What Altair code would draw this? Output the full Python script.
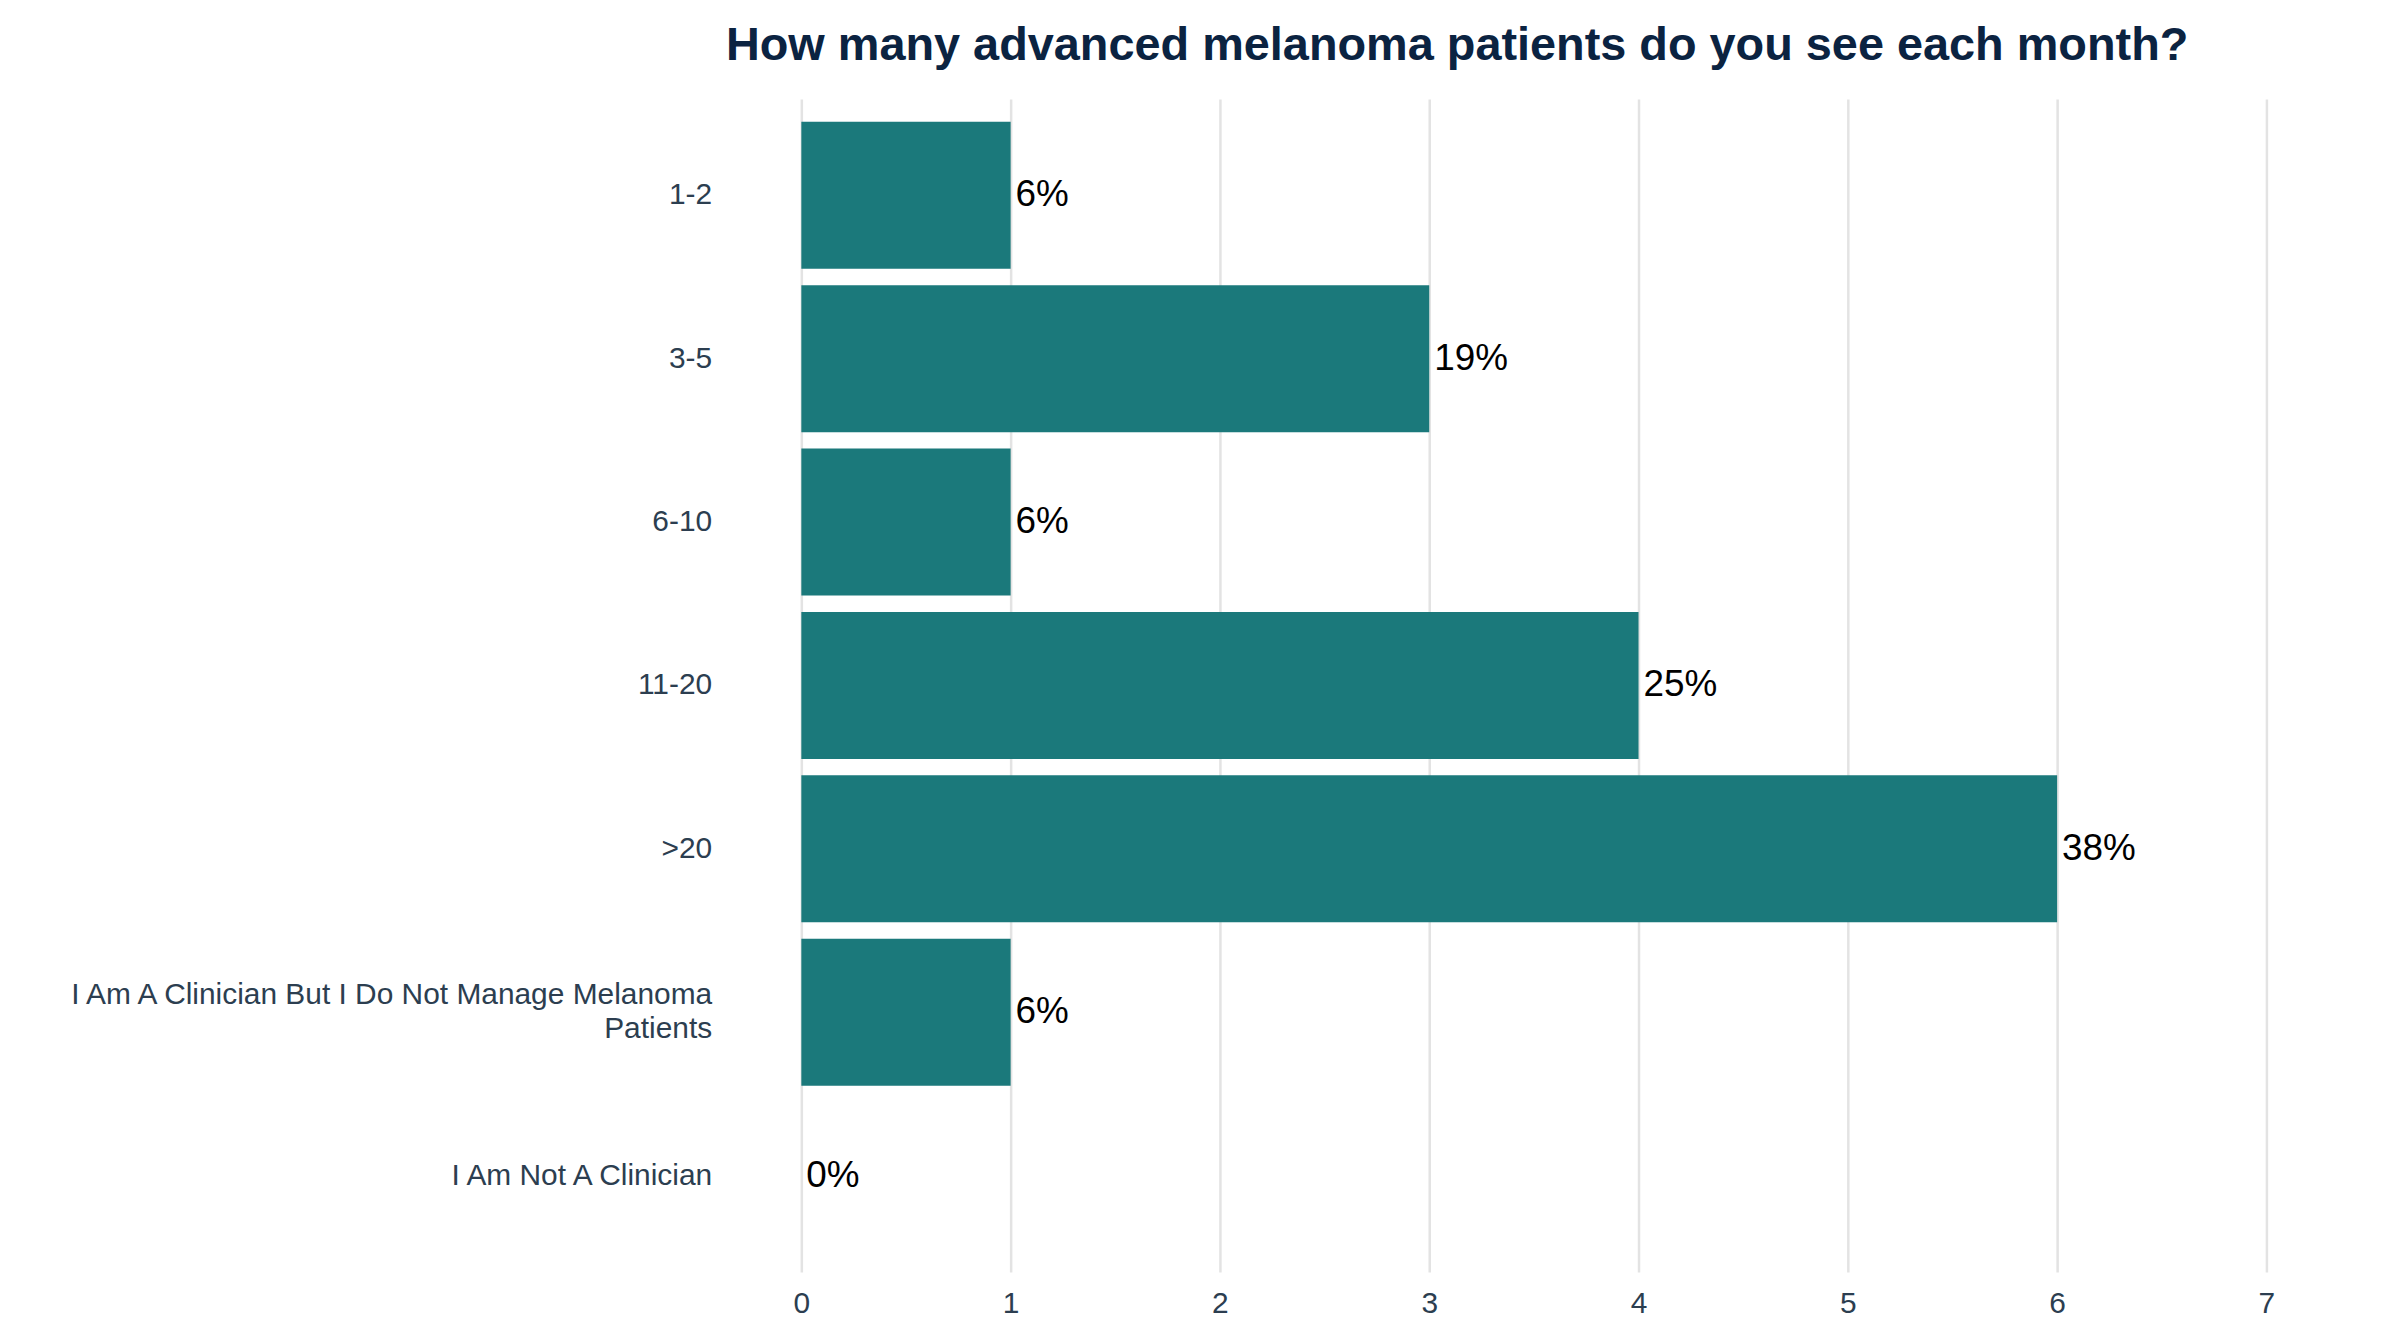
import altair as alt
import pandas as pd

categories = ["1-2", "3-5", "6-10", "11-20", ">20",
              "I Am A Clinician But I Do Not Manage Melanoma Patients",
              "I Am Not A Clinician"]
counts = [1, 3, 1, 4, 6, 1, 0]
pct_labels = ["6%", "19%", "6%", "25%", "38%", "6%", "0%"]
x_ticks = [0, 1, 2, 3, 4, 5, 6, 7]

df = pd.DataFrame({"category": categories, "count": counts, "label": pct_labels})

long_cat = categories[5]
label_expr = (
    f"datum.value == '{long_cat}' ? "
    "['I Am A Clinician But I Do Not Manage Melanoma', 'Patients'] : datum.label"
)

FONT = "Liberation Sans"

y_enc = alt.Y(
    "category:N",
    sort=categories,
    scale=alt.Scale(paddingInner=0.1, paddingOuter=0.14),
    axis=alt.Axis(
        title=None, grid=False, domain=False, ticks=False,
        labelPadding=90, labelAlign="right", labelBaseline="middle",
        labelFontSize=30, labelColor="#2c3e50", labelFont=FONT,
        labelLimit=2000, labelLineHeight=34, labelExpr=label_expr,
        labelOffset={"condition": {"test": f"datum.value == '{long_cat}'", "value": -17},
                     "value": 0},
    ),
)
x_enc = alt.X(
    "count:Q",
    scale=alt.Scale(domain=[0, 7], nice=False),
    axis=alt.Axis(
        title=None, values=x_ticks, grid=True, gridColor="#e3e3e3", gridWidth=2.5,
        domain=False, ticks=False, labelPadding=17, labelFlush=False,
        labelFontSize=30, labelColor="#2c3e50", labelFont=FONT,
        format="d",
    ),
)

bars = alt.Chart(df).mark_bar(color="#1b797b").encode(x=x_enc, y=y_enc)

texts = alt.Chart(df).mark_text(
    align="left", baseline="middle", dx=5, fontSize=37, color="#000000", font=FONT
).encode(x=alt.X("count:Q"), y=alt.Y("category:N", sort=categories), text="label:N")

chart = (bars + texts).properties(
    width=1470,
    height=1177,
    autosize=alt.AutoSizeParams(type="none"),
    padding={"left": 796, "top": 89, "right": 126, "bottom": 70},
    title=alt.TitleParams(
        "How many advanced melanoma patients do you see each month?",
        anchor="middle", frame="group", fontSize=47, fontWeight="bold",
        color="#0b2341", font=FONT, baseline="alphabetic", offset=36, dx=-77, dy=44,
    ),
).configure_view(stroke=None)

chart.save("out.html", embed_options={"renderer": "svg", "actions": False})
